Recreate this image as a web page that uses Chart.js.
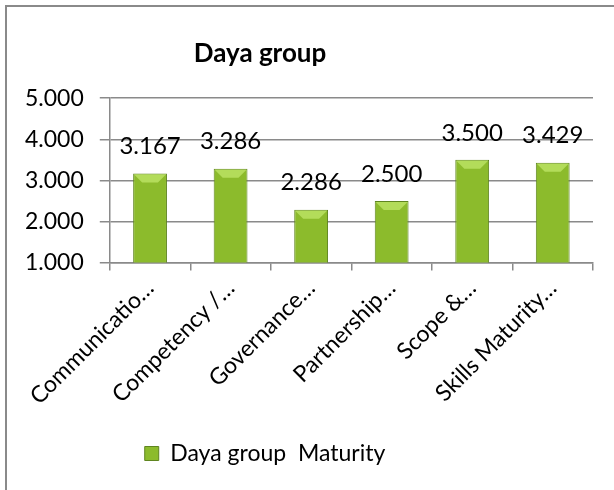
<!DOCTYPE html>
<html>
<head>
<meta charset="utf-8">
<script src="https://cdn.jsdelivr.net/npm/chart.js@4/dist/chart.umd.min.js"></script>
<style>
  html, body { margin: 0; padding: 0; background: #fff; overflow: hidden; }
  #frame { position: absolute; left: 5px; top: 5px; width: 700px; height: 600px;
           border-left: 2px solid #8a8a8a; border-top: 2px solid #8a8a8a; }
  #wrap { position: absolute; left: 8px; top: 8px; width: 606px; height: 482px; }
</style>
</head>
<body>
<div id="frame"></div>
<div id="wrap"><canvas id="chart_dayaGroup"></canvas></div>
<script>
var categories = ['Communicatio…', 'Competency /…', 'Governance…', 'Partnership…', 'Scope &…', 'Skills Maturity…'];
var maturityValues = [3.167, 3.286, 2.286, 2.500, 3.500, 3.429];
var yTicks = [1, 2, 3, 4, 5];
var seriesLabel = 'Daya group  Maturity';
var chartTitle = 'Daya group';

var FONT = 'Lato, "Open Sans", sans-serif';

function barGradient(ctx, x0, x1) {
    var g = ctx.createLinearGradient(x0, 0, x1, 0);
    g.addColorStop(0, '#688f22');
    g.addColorStop(0.15, '#86b32c');
    g.addColorStop(0.5, '#94c236');
    g.addColorStop(0.85, '#86b32c');
    g.addColorStop(1, '#688f22');
    return g;
}

var chart_dayaGroup = new Chart(document.getElementById('chart_dayaGroup'), {
    type: 'bar',
    data: {
        labels: categories,
        datasets: [
            {
                label: seriesLabel,
                data: maturityValues,
                backgroundColor: function (c) {
                    var el = c.element;
                    if (!el || el.x === undefined || isNaN(el.x)) return '#8cbb2c';
                    var w = el.width || 34;
                    return barGradient(c.chart.ctx, el.x - w / 2, el.x + w / 2);
                },
                borderColor: '#5f8520',
                borderWidth: 1,
                barPercentage: 0.42,
                categoryPercentage: 1.0
            }
        ]
    },
    options: {
        animation: false,
        responsive: true,
        maintainAspectRatio: false,
        layout: {
            padding: { left: 1, right: 21, top: 0, bottom: 15 }
        },
        plugins: {
            title: {
                display: true,
                text: chartTitle,
                color: '#000',
                font: { family: FONT, size: 26, weight: 'bold' },
                padding: { top: 30, bottom: 29 }
            },
            legend: {
                position: 'bottom',
                labels: {
                    color: '#000',
                    font: { family: FONT, size: 23 },
                    boxWidth: 14,
                    boxHeight: 14,
                    padding: 6,
                    generateLabels: function (chart) {
                        return [{
                            text: seriesLabel,
                            fillStyle: '#8cbb2c',
                            strokeStyle: '#5f8520',
                            lineWidth: 1,
                            datasetIndex: 0
                        }];
                    }
                }
            },
            tooltip: { enabled: false }
        },
        scales: {
            x: {
                offset: true,
                afterFit: function (scale) {
                    scale.height += 22;
                },
                grid: {
                    display: true,
                    offset: true,
                    drawOnChartArea: false,
                    drawTicks: true,
                    tickLength: 8,
                    color: '#8a8a8a',
                    lineWidth: 1.5
                },
                border: { display: true, color: '#8a8a8a', width: 1.5 },
                ticks: {
                    color: '#000',
                    font: { family: FONT, size: 23 },
                    minRotation: 45,
                    maxRotation: 45,
                    autoSkip: false,
                    padding: 4
                }
            },
            y: {
                min: 1,
                max: 5,
                afterBuildTicks: function (axis) {
                    axis.ticks = yTicks.map(function (v) { return { value: v }; });
                },
                grid: {
                    color: '#8a8a8a',
                    lineWidth: 1.5,
                    tickLength: 10
                },
                border: { display: true, color: '#8a8a8a', width: 1.5 },
                ticks: {
                    color: '#000',
                    font: { family: FONT, size: 23 },
                    padding: 16,
                    callback: function (v) { return Number(v).toFixed(3); }
                }
            }
        }
    },
    plugins: [{
        id: 'shiftTitleLegend',
        afterLayout: function (chart) {
            // Excel centres title and legend on a narrower frame than the plot
            var shift = 82;
            if (chart.titleBlock) { chart.titleBlock.right -= shift; }
            if (chart.legend) { chart.legend.right -= shift - 10; }
        }
    }, {
        id: 'valueLabels',
        afterDatasetsDraw: function (chart) {
            var ctx = chart.ctx;
            var meta = chart.getDatasetMeta(0);
            ctx.save();
            // lighter bevel facet on the top of each bar
            meta.data.forEach(function (bar) {
                var half = bar.width / 2;
                var d = Math.min(9, half);
                ctx.beginPath();
                ctx.moveTo(bar.x - half + 1, bar.y + 1);
                ctx.lineTo(bar.x + half - 1, bar.y + 1);
                ctx.lineTo(bar.x + half - d, bar.y + d);
                ctx.lineTo(bar.x - half + d, bar.y + d);
                ctx.closePath();
                ctx.fillStyle = '#b3dc5a';
                ctx.fill();
            });
            ctx.fillStyle = '#000';
            ctx.font = '24px ' + FONT;
            ctx.textAlign = 'center';
            ctx.textBaseline = 'middle';
            meta.data.forEach(function (bar, i) {
                ctx.fillText(maturityValues[i].toFixed(3), bar.x, bar.y - 27);
            });
            ctx.restore();
        }
    }]
});
</script>
</body>
</html>
